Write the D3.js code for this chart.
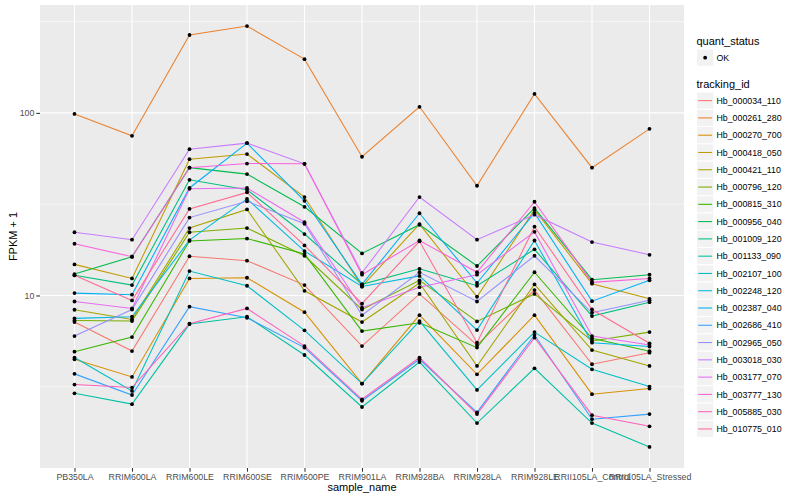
<!DOCTYPE html>
<html>
<head>
<meta charset="utf-8">
<script src="https://cdn.jsdelivr.net/npm/d3@7"></script>
<style>
  body { margin: 0; background: #fff; }
  text { font-family: "Liberation Sans", Arial, sans-serif; }
</style>
</head>
<body>
<svg id="chart" width="800" height="500"></svg>
<script>
// --- data (FPKM + 1) ---
const samples = ["PB350LA", "RRIM600LA", "RRIM600LE", "RRIM600SE", "RRIM600PE", "RRIM901LA",
  "RRIM928BA", "RRIM928LA", "RRIM928LE", "RRII105LA_Control", "RRII105LA_Stressed"];

const trackingIds = ["Hb_000034_110", "Hb_000261_280", "Hb_000270_700", "Hb_000418_050", "Hb_000421_110",
  "Hb_000796_120", "Hb_000815_310", "Hb_000956_040", "Hb_001009_120", "Hb_001133_090",
  "Hb_002107_100", "Hb_002248_120", "Hb_002387_040", "Hb_002686_410", "Hb_002965_050",
  "Hb_003018_030", "Hb_003177_070", "Hb_003777_130", "Hb_005885_030", "Hb_010775_010"];

const hb_000034_110 = [7.15, 4.96, 16.4, 15.5, 11.4, 5.28, 10.2, 5.35, 10.7, 4.20, 4.86];
const hb_000261_280 = [98.7, 74.9, 267, 299, 197, 57.5, 108, 39.9, 127, 50.1, 81.8];
const hb_000270_700 = [4.47, 3.58, 12.4, 12.5, 8.10, 3.29, 7.80, 3.70, 7.80, 2.88, 3.09];
const hb_000418_050 = [14.8, 12.4, 55.8, 59.5, 34.6, 11.2, 24.6, 9.84, 29.5, 11.6, 9.59];
const hb_000421_110 = [8.35, 7.39, 23.4, 29.6, 10.6, 7.15, 11.7, 4.11, 11.5, 5.02, 4.11];
const hb_000796_120 = [7.30, 7.24, 22.2, 23.4, 16.5, 8.38, 12.1, 7.21, 10.2, 5.63, 6.30];
const hb_000815_310 = [4.92, 5.92, 19.9, 20.5, 16.9, 6.38, 7.09, 5.18, 13.4, 5.82, 4.95];
const hb_000956_040 = [13.1, 16.3, 50.1, 46.2, 30.6, 17.0, 24.4, 14.5, 30.1, 12.2, 13.0];
const hb_001009_120 = [12.9, 11.4, 43.0, 37.9, 21.7, 11.5, 14.0, 11.3, 17.9, 7.71, 9.19];
const hb_001133_090 = [2.91, 2.54, 6.97, 7.65, 4.72, 2.45, 4.32, 2.00, 3.99, 2.00, 1.48];
const hb_002107_100 = [4.57, 3.00, 13.6, 11.3, 6.44, 3.29, 7.24, 3.04, 6.30, 3.94, 3.17];
const hb_002248_120 = [7.49, 7.65, 20.1, 33.8, 17.5, 11.2, 12.8, 6.46, 20.0, 5.51, 5.25];
const hb_002387_040 = [10.3, 10.1, 38.8, 68.3, 33.0, 11.5, 28.2, 11.7, 28.3, 9.31, 12.1];
const hb_002686_410 = [3.72, 2.85, 8.68, 7.55, 5.18, 2.65, 4.47, 2.29, 6.07, 2.10, 2.24];
const hb_002965_050 = [5.99, 8.38, 26.7, 32.8, 24.7, 7.80, 13.4, 9.27, 16.5, 8.04, 9.42];
const hb_003018_030 = [22.2, 20.2, 63.3, 68.3, 52.6, 13.3, 34.6, 20.2, 27.7, 19.6, 16.7];
const hb_003177_070 = [9.27, 8.49, 38.4, 38.8, 25.2, 8.57, 11.1, 13.0, 22.3, 5.99, 5.35];
const hb_003777_130 = [19.2, 16.3, 50.1, 52.8, 52.6, 13.0, 20.0, 13.4, 32.6, 11.8, 12.4];
const hb_005885_030 = [3.25, 3.13, 7.00, 8.49, 5.28, 2.70, 4.57, 2.24, 5.87, 2.21, 1.92];
const hb_010775_010 = [12.9, 9.39, 29.8, 36.7, 18.8, 9.01, 19.8, 5.51, 23.8, 8.38, 5.47];

const seriesValues = [hb_000034_110, hb_000261_280, hb_000270_700, hb_000418_050, hb_000421_110,
  hb_000796_120, hb_000815_310, hb_000956_040, hb_001009_120, hb_001133_090,
  hb_002107_100, hb_002248_120, hb_002387_040, hb_002686_410, hb_002965_050,
  hb_003018_030, hb_003177_070, hb_003777_130, hb_005885_030, hb_010775_010];

const yTicks = [10, 100];
const quantStatus = ["OK"];

// ggplot hue palette, 20 levels
const palette = ["#F8766D", "#EA8331", "#D89000", "#C09B00", "#A3A500", "#7CAE00", "#39B600",
  "#00BB4E", "#00BF7D", "#00C1A3", "#00BFC4", "#00BAE0", "#00B0F6", "#35A2FF", "#9590FF",
  "#C77CFF", "#E76BF3", "#FA62DB", "#FF62BC", "#FF6C91"];

// --- layout ---
const panel = { left: 40, right: 684, top: 5, bottom: 468 };
const svg = d3.select("#chart");

const series = trackingIds.map((id, i) => ({
  id: id,
  color: palette[i],
  points: samples.map((s, j) => ({ sample: s, value: seriesValues[i][j] }))
}));

const x = d3.scalePoint().domain(samples).range([panel.left, panel.right]).padding(0.6);

// log scale, expanded 5% each side like ggplot
const allVals = seriesValues.flat();
const lo = Math.log10(d3.min(allVals)), hi = Math.log10(d3.max(allVals));
const pad = (hi - lo) * 0.05;
const y = d3.scaleLog()
  .domain([Math.pow(10, lo - pad), Math.pow(10, hi + pad)])
  .range([panel.bottom, panel.top]);

// panel background
svg.append("rect")
  .attr("x", panel.left).attr("y", panel.top)
  .attr("width", panel.right - panel.left).attr("height", panel.bottom - panel.top)
  .attr("fill", "#EBEBEB");

const grid = svg.append("g");
// minor y grid (log midpoints)
[Math.pow(10, 0.5), Math.pow(10, 1.5), Math.pow(10, 2.5)].forEach(v => {
  grid.append("line")
    .attr("x1", panel.left).attr("x2", panel.right)
    .attr("y1", y(v)).attr("y2", y(v))
    .attr("stroke", "#fff").attr("stroke-width", 0.55);
});
yTicks.forEach(v => {
  grid.append("line")
    .attr("x1", panel.left).attr("x2", panel.right)
    .attr("y1", y(v)).attr("y2", y(v))
    .attr("stroke", "#fff").attr("stroke-width", 1.1);
});
samples.forEach(s => {
  grid.append("line")
    .attr("x1", x(s)).attr("x2", x(s))
    .attr("y1", panel.top).attr("y2", panel.bottom)
    .attr("stroke", "#fff").attr("stroke-width", 1.1);
});

// lines
const line = d3.line().x(d => x(d.sample)).y(d => y(d.value));
svg.append("g").selectAll("path")
  .data(series)
  .enter().append("path")
  .attr("d", d => line(d.points))
  .attr("fill", "none")
  .attr("stroke", d => d.color)
  .attr("stroke-width", 1.07);

// points
svg.append("g").selectAll("circle")
  .data(series.flatMap(d => d.points))
  .enter().append("circle")
  .attr("cx", d => x(d.sample))
  .attr("cy", d => y(d.value))
  .attr("r", 1.9)
  .attr("fill", "#000");

// axes
const yAxis = svg.append("g")
  .attr("transform", `translate(${panel.left},0)`)
  .call(d3.axisLeft(y).tickValues(yTicks).tickFormat(d3.format("d")).tickSize(3.7).tickPadding(2));
const xAxis = svg.append("g")
  .attr("transform", `translate(0,${panel.bottom})`)
  .call(d3.axisBottom(x).tickSize(3.7).tickPadding(2.5));
[yAxis, xAxis].forEach(a => {
  a.select(".domain").remove();
  a.selectAll(".tick line").attr("stroke", "#333333").attr("stroke-width", 1.07);
  a.selectAll(".tick text").attr("fill", "#4D4D4D").style("font-size", "8.8px")
    .style("font-family", '"Liberation Sans", Arial, sans-serif');
});

// axis titles
svg.append("text")
  .attr("x", (panel.left + panel.right) / 2).attr("y", 491)
  .attr("text-anchor", "middle").attr("font-size", "11px").attr("fill", "#000")
  .text("sample_name");
svg.append("text")
  .attr("transform", `translate(16.5,${(panel.top + panel.bottom) / 2}) rotate(-90)`)
  .attr("text-anchor", "middle").attr("font-size", "11px").attr("fill", "#000")
  .text("FPKM + 1");

// legends
const keySize = 17.28;
const legend = svg.append("g").attr("transform", "translate(696.5,0)");

legend.append("text").attr("x", 0).attr("y", 44.5).attr("font-size", "11px").text("quant_status");
quantStatus.forEach((q, i) => {
  const ky = 49 + i * keySize;
  legend.append("rect").attr("x", 0).attr("y", ky).attr("width", keySize).attr("height", keySize)
    .attr("fill", "#F2F2F2").attr("stroke", "#fff").attr("stroke-width", 1);
  legend.append("circle").attr("cx", keySize / 2).attr("cy", ky + keySize / 2).attr("r", 1.9).attr("fill", "#000");
  legend.append("text").attr("x", keySize + 2.7).attr("y", ky + keySize / 2 + 3.1)
    .attr("font-size", "8.8px").attr("fill", "#000").text(q);
});

legend.append("text").attr("x", 0).attr("y", 88).attr("font-size", "11px").text("tracking_id");
series.forEach((d, i) => {
  const ky = 92 + i * keySize;
  legend.append("rect").attr("x", 0).attr("y", ky).attr("width", keySize).attr("height", keySize)
    .attr("fill", "#F2F2F2").attr("stroke", "#fff").attr("stroke-width", 1);
  legend.append("line").attr("x1", 1.7).attr("x2", keySize - 1.7)
    .attr("y1", ky + keySize / 2).attr("y2", ky + keySize / 2)
    .attr("stroke", d.color).attr("stroke-width", 1.07);
  legend.append("text").attr("x", keySize + 2.7).attr("y", ky + keySize / 2 + 3.1)
    .attr("font-size", "8.8px").attr("fill", "#000").text(d.id);
});
</script>
</body>
</html>
